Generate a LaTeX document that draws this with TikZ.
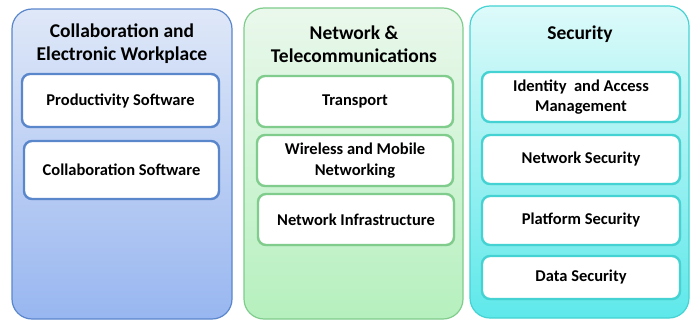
\documentclass[tikz,border=0pt]{standalone}
\usepackage{fontspec}
\setmainfont{Carlito}
\usepackage{tikz}
\usetikzlibrary{shadows}

\definecolor{blueedge}{HTML}{5A86CC}
\definecolor{bluetop}{HTML}{DFE8F8}
\definecolor{bluebot}{HTML}{98B6F0}
\definecolor{greenedge}{HTML}{7FCC8C}
\definecolor{greentop}{HTML}{EAF8EC}
\definecolor{greenbot}{HTML}{B6F0BE}
\definecolor{cyanedge}{HTML}{45D2D2}
\definecolor{cyantop}{HTML}{DDFAFA}
\definecolor{cyanbot}{HTML}{5EE8EA}

\tikzset{
  panel/.style={draw=#1edge, line width=1.2pt, rounded corners=20pt,
    top color=#1top, bottom color=#1bot, inner sep=0pt},
  item/.style={draw=#1edge, line width=2.4pt, rounded corners=8pt, fill=white,
    align=center, font=\bfseries\fontsize{16.5}{20.5}\selectfont, inner sep=0pt,
    drop shadow={opacity=0.15, shadow xshift=1pt, shadow yshift=-1pt}},
  title/.style={align=center, font=\bfseries\fontsize{19.5}{23.5}\selectfont}
}

\begin{document}
\begin{tikzpicture}[x=1pt,y=-1pt]
\useasboundingbox (0,0) rectangle (698,321);
% columns
\node[panel=blue, minimum width=220pt, minimum height=310pt] (cola) at (122,164) {};
\node[panel=green, minimum width=219pt, minimum height=311pt] (colb) at (353.5,163.5) {};
\node[panel=cyan, minimum width=219pt, minimum height=312pt] (colc) at (579.5,162) {};
% titles
\node[title] (ta) at (122,43.5) {Collaboration and\\Electronic Workplace};
\node[title] (tb) at (354,44) {Network \&\\Telecommunications};
\node[title] (tc) at (580,34) {Security};
% collaboration
\node[item=blue, minimum width=197pt, minimum height=53pt] (prod) at (120.5,100.5) {Productivity Software};
\node[item=blue, minimum width=195pt, minimum height=58pt] (collab) at (121.5,170) {Collaboration Software};
% network
\node[item=green, minimum width=196pt, minimum height=51pt] (transp) at (355,101.5) {Transport};
\node[item=green, minimum width=196pt, minimum height=51pt] (wireless) at (355,160.5) {Wireless and Mobile\\Networking};
\node[item=green, minimum width=196pt, minimum height=51pt] (infra) at (356,219.5) {Network Infrastructure};
% security
\node[item=cyan, minimum width=198pt, minimum height=50pt] (iam) at (581,97) {Identity\ \ and Access\\Management};
\node[item=cyan, minimum width=198pt, minimum height=49pt] (netsec) at (581,159.5) {Network Security};
\node[item=cyan, minimum width=198pt, minimum height=49pt] (platsec) at (581,220.5) {Platform Security};
\node[item=cyan, minimum width=198pt, minimum height=43pt] (datasec) at (581,277.5) {Data Security};
\end{tikzpicture}
\end{document}
